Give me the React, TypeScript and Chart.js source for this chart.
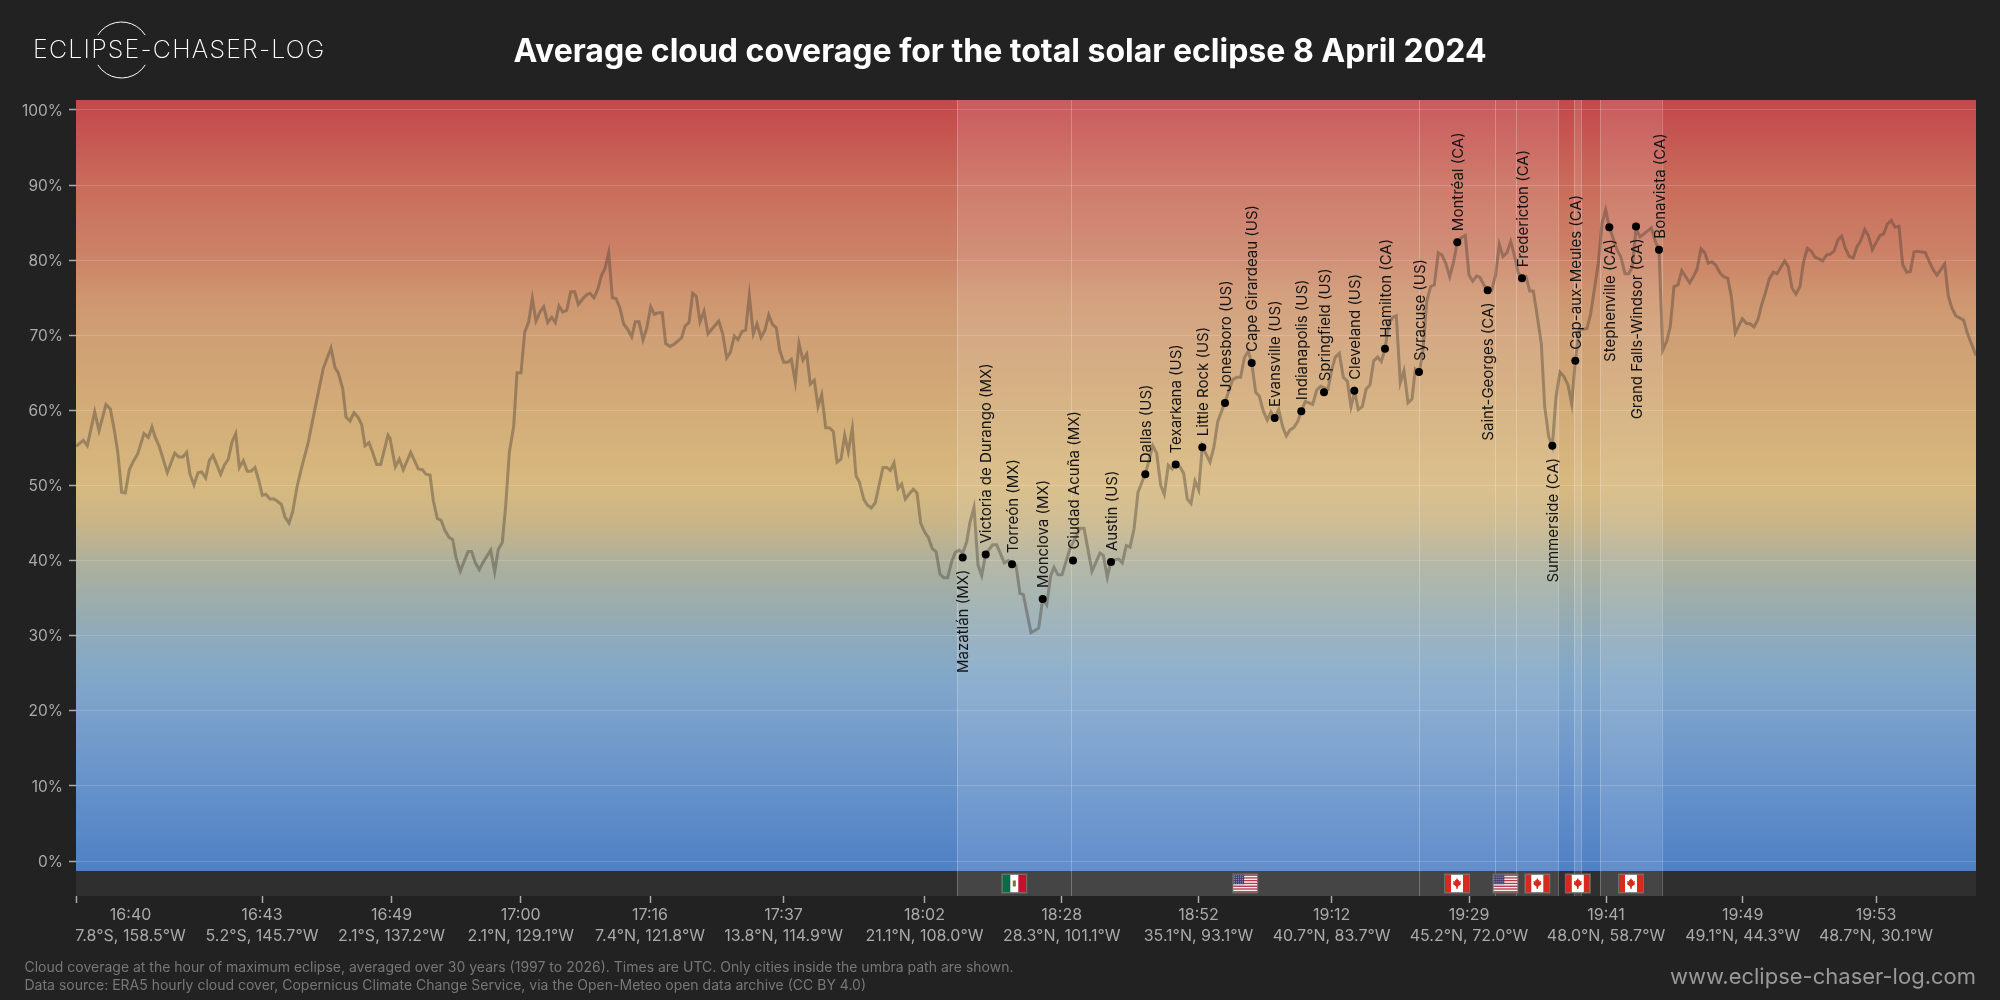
import { useEffect, useRef } from 'react';
import { Chart, registerables } from 'chart.js';

Chart.register(...registerables);

const TITLE = 'Average cloud coverage for the total solar eclipse 8 April 2024';
const FOOT_1 = 'Cloud coverage at the hour of maximum eclipse, averaged over 30 years (1997 to 2026). Times are UTC. Only cities inside the umbra path are shown.';
const FOOT_2 = 'Data source: ERA5 hourly cloud cover, Copernicus Climate Change Service, via the Open-Meteo open data archive (CC BY 4.0)';
const SITE = 'www.eclipse-chaser-log.com';
const LOGO = 'ECLIPSE-CHASER-LOG';

// position along the eclipse path (axis units), and cloud cover in %
const trackPos = [
  0, 7.3, 11.3, 18.7, 23, 30, 34.3, 38.3, 41.7, 45.7,
  49.3, 53.3, 57.3, 61.7, 68, 72.3, 76, 79.3, 83.3, 91.3,
  98.7, 102.7, 106.7, 110.7, 114, 118, 122, 125.7, 129.7, 133.3,
  137, 144.7, 148.3, 152.3, 156, 159.7, 163.3, 167.3, 171.3, 175,
  179, 182.7, 186.3, 190, 194, 198, 201.3, 205.3, 209, 213,
  216.7, 220.7, 224.7, 232, 239.7, 247.3, 255, 259, 262.3, 266.7,
  270, 274, 278, 282, 285.7, 289, 293, 296.7, 300.7, 304.7,
  312, 314, 319.3, 323.3, 327.3, 334.7, 342.3, 346.3, 350, 354,
  357.3, 361.3, 365, 369, 373, 376.7, 380, 384.3, 392, 395.7,
  399.3, 403.3, 407.3, 414.7, 418.7, 422.3, 426.3, 429.7, 433.3, 437.7,
  441, 445, 448.7, 452.7, 456.3, 460, 464, 467.7, 471.7, 475.7,
  479.3, 483, 486.7, 490.7, 494.7, 498.7, 502.3, 506.3, 510.7, 514,
  518, 522, 525.3, 529, 532.7, 536.3, 540, 544, 547.7, 551.7,
  555.7, 559.3, 563, 567, 570.7, 574.7, 578.3, 582.3, 586.3, 589.7,
  594, 598, 605.7, 609, 613, 616.7, 620.3, 624, 628, 632,
  642.7, 646.7, 650.7, 654.3, 658.3, 662, 666, 669.7, 673.3, 677.3,
  681, 685, 689, 692.7, 696.3, 700.3, 703.7, 707.7, 711.7, 715.3,
  719.3, 723, 727, 730.7, 734.3, 738.3, 742, 745.7, 749.7, 753.3,
  757.3, 761, 765, 768.7, 772.3, 776.3, 780, 783.3, 787.7, 791.3,
  795.3, 799.3, 803, 807, 810.7, 814.3, 818, 822, 825.7, 829.3,
  833.3, 837.3, 841, 844.7, 848.7, 852.3, 856.3, 860, 864, 867.7,
  871.7, 875.7, 879.3, 883.3, 886.7, 890.7, 894, 898, 902, 905.7,
  909.7, 916.7, 920.7, 928.3, 932.3, 940, 944, 947.3, 955, 962.7,
  966.7, 970.7, 974.7, 978, 982, 986, 994, 1004, 1008, 1016,
  1024, 1027.3, 1031.3, 1035, 1042.7, 1046.3, 1050.3, 1054, 1058, 1062,
  1069.3, 1073, 1076.7, 1080.7, 1084.7, 1088.3, 1092.3, 1096, 1099.7, 1104,
  1107.7, 1111.3, 1115, 1119, 1122.7, 1126.3, 1130.3, 1134, 1138, 1141.7,
  1149, 1156.7, 1160.7, 1164.7, 1168.3, 1172.3, 1176, 1179.7, 1183.3, 1187.3,
  1191.3, 1195, 1198.7, 1202.7, 1206.7, 1210.3, 1214, 1217.7, 1221.7, 1225.3,
  1229.3, 1236.7, 1240.7, 1244.7, 1252, 1255.7, 1259.3, 1263.3, 1267.3, 1271.3,
  1275, 1278.7, 1282.3, 1286.3, 1290, 1294, 1297.7, 1301.7, 1305.3, 1309,
  1313, 1317, 1320.3, 1324.3, 1328, 1332, 1336, 1339.3, 1343.3, 1347,
  1350.7, 1354.7, 1358.3, 1362.3, 1366, 1369.7, 1373.7, 1377.3, 1381.3, 1385.3,
  1389.3, 1393, 1396.7, 1400.7, 1404, 1408.3, 1411.7, 1415.7, 1419.7, 1423.3,
  1427, 1431, 1434.7, 1438.3, 1442.3, 1446, 1450, 1453.7, 1457.3, 1461.3,
  1465.3, 1468.7, 1472.7, 1476.3, 1480, 1484, 1488, 1492, 1495.7, 1499.3,
  1503.3, 1507.3, 1511, 1514.7, 1522.3, 1526, 1529.7, 1533.3, 1541, 1544.7,
  1549, 1552.7, 1556.3, 1560, 1564, 1571.7, 1575.3, 1579.3, 1583, 1586.7,
  1590.7, 1594.3, 1598, 1602, 1605.7, 1613.7, 1617.3, 1621, 1625, 1628.7,
  1632.3, 1636, 1640, 1644, 1647.7, 1651.7, 1655.3, 1659.3, 1666.3, 1670.3,
  1674.3, 1678, 1682, 1685.7, 1689.3, 1693.3, 1697.3, 1701, 1708.7, 1712.3,
  1716, 1720, 1724, 1727.3, 1731.3, 1735.3, 1739, 1746.7, 1750.7, 1754.3,
  1758, 1762, 1765.7, 1769.3, 1773.3, 1777.3, 1781, 1784.7, 1788.7, 1792.3,
  1796.3, 1804, 1807.7, 1811.3, 1815.3, 1819, 1823, 1826.7, 1830.7, 1834.3,
  1838, 1841.7, 1849.3, 1853.3, 1857.3, 1861, 1868.7, 1872.3, 1876, 1879.7,
  1887.7, 1891.3, 1895.3, 1900,
];
const trackCloud = [
  55.2, 56, 55.3, 59.8, 57.3, 60.8, 60.2, 57.4, 54.5, 49.1,
  49, 52.1, 53.2, 54.2, 56.9, 56.4, 57.8, 56.4, 55.2, 51.7,
  54.3, 53.8, 53.8, 54.4, 51.5, 50.1, 51.7, 51.8, 51, 53.3,
  54, 51.5, 52.7, 53.5, 55.8, 56.9, 52.4, 53.3, 51.9, 51.9,
  52.4, 50.7, 48.7, 48.8, 48.2, 48.2, 47.9, 47.5, 45.8, 45,
  46.5, 49.6, 51.9, 55.6, 60.7, 65.6, 68.3, 65.7, 65, 62.9,
  59.1, 58.6, 59.7, 59.1, 58.1, 55.3, 55.7, 54.4, 52.8, 52.8,
  56.7, 56.3, 52.5, 53.5, 52.1, 54.4, 52.2, 52.1, 51.5, 51.4,
  48, 45.6, 45.4, 44, 43.1, 42.8, 40.4, 38.6, 41.2, 41.2,
  39.7, 38.8, 39.8, 41.4, 38.5, 41.5, 42.4, 47.3, 54.4, 57.9,
  65, 65, 70.4, 71.8, 74.9, 71.9, 73.1, 73.8, 71.7, 72.4,
  71.7, 73.9, 73.1, 73.3, 75.8, 75.8, 74.1, 74.8, 75.4, 75.6,
  75, 76.2, 77.9, 78.9, 81, 75, 74.9, 73.6, 71.5, 70.8,
  69.8, 71.8, 71.8, 69.4, 70.9, 73.8, 72.8, 73, 73, 68.9,
  68.5, 68.8, 69.7, 71.2, 71.7, 75.6, 75.2, 71.8, 73.2, 70.2,
  71.9, 70.2, 67, 67.7, 69.9, 69.4, 70.5, 70.7, 75.3, 70.2,
  71.5, 69.7, 70.7, 72.7, 71.5, 71, 68, 66.4, 66.4, 66.8,
  63.8, 68.9, 66.7, 67.5, 63.5, 64, 60.5, 62.1, 57.7, 57.7,
  57.2, 53.1, 53.5, 56.7, 54.5, 57.6, 51.3, 50.5, 48.2, 47.4,
  47, 47.7, 50, 52.4, 52.4, 52, 53, 49.6, 50.2, 48.2,
  48.9, 49.5, 49, 45, 43.8, 43.1, 41.6, 41.2, 38.2, 37.7,
  37.7, 39.9, 41.1, 41.4, 41, 42.5, 45.1, 47.1, 39.4, 38,
  40.9, 42.1, 42.1, 39.7, 40, 39.4, 35.6, 35.5, 30.4, 31,
  34.9, 34.1, 38, 39.1, 38.1, 38.1, 41.6, 44.3, 44.3, 38.6,
  41, 40.7, 37.8, 40, 40.2, 39.7, 42, 41.8, 44.2, 49.1,
  51.6, 53.3, 55.3, 54.3, 50, 48.8, 52.7, 52.2, 52.9, 52.5,
  51.6, 48.2, 47.6, 50.6, 49.4, 55.2, 54.1, 53.1, 55.2, 58.5,
  61.1, 64.1, 64.4, 64.4, 67, 67.9, 66.1, 62.4, 61.9, 59.9,
  58.7, 59.8, 59, 60.1, 57.8, 56.6, 57.4, 57.7, 58.5, 59.9,
  61.2, 60.8, 62.7, 63.2, 62.8, 65.4, 67.1, 67.6, 64.4, 63.9,
  60.5, 62.5, 60.1, 60.5, 62.8, 63.4, 66.6, 67.1, 66.5, 68.2,
  71.7, 72.4, 72.6, 63.7, 65.3, 61, 61.5, 65.5, 65.1, 68,
  74.5, 76.5, 76.7, 81, 80.7, 79.6, 77.8, 79.6, 82.4, 83,
  83.3, 78, 77.2, 77.9, 77.7, 76.6, 76, 76, 78.1, 82.1,
  80.5, 81, 82.5, 80.7, 78.3, 77.6, 77.8, 75.9, 75.9, 72.5,
  68.9, 60.5, 56.5, 55.2, 61.8, 65.1, 64.5, 63.4, 60.9, 66.6,
  70.8, 70.8, 70.9, 72.9, 79.6, 84.9, 86.7, 84.4, 81.4, 80.5,
  78.2, 78.2, 79.1, 84.2, 83.1, 83.9, 84.3, 82.5, 81.4, 68,
  69.2, 71.2, 76.5, 76.7, 78.6, 77, 77.8, 78.8, 81.5, 81,
  79.6, 79.8, 79.3, 78.3, 77.8, 77.6, 75.2, 70.3, 72.2, 71.6,
  71.5, 71.1, 72.1, 74.1, 75.6, 77.5, 78.4, 78.2, 79.9, 79.1,
  76.3, 75.5, 76.5, 79.6, 81.6, 81.2, 80.4, 79.9, 80.7, 80.8,
  81.2, 82.7, 83.2, 81.6, 80.5, 80.3, 81.8, 82.6, 84.1, 83.3,
  81.4, 83.3, 83.5, 84.8, 85.3, 84.4, 84.5, 79.4, 78.4, 78.5,
  81.1, 81.2, 81, 79.8, 78.7, 78, 79.5, 75.2, 73.6, 72.6,
  72, 70.3, 68.9, 67.3,
];

const cityNames = [
  'Mazatlán (MX)', 'Victoria de Durango (MX)', 'Torreón (MX)', 'Monclova (MX)', 'Ciudad Acuña (MX)',
  'Austin (US)', 'Dallas (US)', 'Texarkana (US)', 'Little Rock (US)', 'Jonesboro (US)',
  'Cape Girardeau (US)', 'Evansville (US)', 'Indianapolis (US)', 'Springfield (US)', 'Cleveland (US)',
  'Hamilton (CA)', 'Syracuse (US)', 'Montréal (CA)', 'Saint-Georges (CA)', 'Fredericton (CA)',
  'Summerside (CA)', 'Cap-aux-Meules (CA)', 'Stephenville (CA)', 'Grand Falls-Windsor (CA)', 'Bonavista (CA)',
];
const cityPos = [
  886.7, 909.7, 936, 966.7, 997,
  1035, 1069.3, 1099.7, 1126.3, 1149,
  1175.7, 1198.7, 1225.3, 1248, 1278.3,
  1309, 1343, 1381.3, 1411.7, 1446,
  1476.3, 1499.3, 1533.3, 1560, 1583,
];
const cityCloud = [
  40.4, 40.8, 39.5, 34.9, 40,
  39.8, 51.5, 52.8, 55.1, 61,
  66.3, 59, 59.9, 62.4, 62.6,
  68.2, 65.1, 82.4, 76, 77.6,
  55.3, 66.6, 84.4, 84.5, 81.4,
];
const citiesBelow = ['Mazatlán (MX)', 'Saint-Georges (CA)', 'Summerside (CA)', 'Stephenville (CA)', 'Grand Falls-Windsor (CA)'];

// umbra segments per country
const bandStart = [881.3, 995.3, 1343.3, 1418.7, 1440.3, 1498.3, 1524.3];
const bandEnd = [995.3, 1343.3, 1418.7, 1440.3, 1482.3, 1505.3, 1585.7];
const bandCountry = ['MX', 'US', 'CA', 'US', 'CA', 'CA', 'CA'];

const yTicks = [0, 10, 20, 30, 40, 50, 60, 70, 80, 90, 100];
const tickPos = [0, 54.6, 186, 315.6, 444.7, 574, 707.6, 848.5, 985.7, 1122.5, 1255.6, 1393, 1530, 1666.7, 1800];
const tickTime = ['', '16:40', '16:43', '16:49', '17:00', '17:16', '17:37', '18:02', '18:28', '18:52', '19:12', '19:29', '19:41', '19:49', '19:53'];
const tickCoord = [
  '', '7.8°S, 158.5°W', '5.2°S, 145.7°W', '2.1°S, 137.2°W', '2.1°N, 129.1°W', '7.4°N, 121.8°W', '13.8°N, 114.9°W',
  '21.1°N, 108.0°W', '28.3°N, 101.1°W', '35.1°N, 93.1°W', '40.7°N, 83.7°W', '45.2°N, 72.0°W', '48.0°N, 58.7°W',
  '49.1°N, 44.3°W', '48.7°N, 30.1°W',
];

const gradientValues = [101.3, 100, 90, 80, 75, 70, 60, 50, 45, 40, 35, 30, 25, 20, 10, 0, -1.3];
const gradientColors = [
  '#c24a4c', '#c44b4d', '#c96c5b', '#cc8468', '#cf9670', '#cf9f75', '#d3ac78', '#d7b97f', '#c9b588', '#aeb09b',
  '#9dadaa', '#8faaba', '#82a8c8', '#7ba1cb', '#6692ca', '#5282c6', '#5080c5',
];

const STRIP_FLOOR = -4.66;
const STRIP_TOP = -1.33;

function drawFlag(ctx: CanvasRenderingContext2D, code: string, cx: number, top: number) {
  const w = 24;
  const h = 18;
  const x = cx - w / 2;
  ctx.save();
  ctx.fillStyle = '#fff';
  ctx.fillRect(x, top, w, h);
  if (code === 'MX') {
    ctx.fillStyle = '#0b6b47';
    ctx.fillRect(x, top, w / 3, h);
    ctx.fillStyle = '#c8102e';
    ctx.fillRect(x + (2 * w) / 3, top, w / 3, h);
    ctx.fillStyle = '#8a6a3a';
    ctx.fillRect(cx - 1.5, top + 6, 3, 6);
  } else if (code === 'US') {
    for (let i = 0; i < 13; i++) {
      ctx.fillStyle = i % 2 === 0 ? '#b8344a' : '#f2f2f2';
      ctx.fillRect(x, top + (i * h) / 13, w, h / 13 + 0.2);
    }
    ctx.fillStyle = '#3c3b6e';
    ctx.fillRect(x, top, w * 0.45, h * 0.54);
    ctx.fillStyle = 'rgba(255,255,255,0.75)';
    for (let r = 0; r < 5; r++) {
      for (let c = 0; c < 5; c++) {
        ctx.fillRect(x + 1 + c * 2, top + 1 + r * 1.8, 0.8, 0.8);
      }
    }
  } else {
    ctx.fillStyle = '#d52b1e';
    ctx.fillRect(x, top, w / 4, h);
    ctx.fillRect(x + (3 * w) / 4, top, w / 4, h);
    // rough maple leaf
    ctx.beginPath();
    ctx.moveTo(cx, top + 3.5);
    ctx.lineTo(cx + 1.2, top + 5.8);
    ctx.lineTo(cx + 2, top + 5.2);
    ctx.lineTo(cx + 2, top + 7);
    ctx.lineTo(cx + 4, top + 6.6);
    ctx.lineTo(cx + 3.4, top + 8.6);
    ctx.lineTo(cx + 4.2, top + 9.4);
    ctx.lineTo(cx + 1, top + 12);
    ctx.lineTo(cx + 0.5, top + 14.5);
    ctx.lineTo(cx - 0.5, top + 14.5);
    ctx.lineTo(cx - 1, top + 12);
    ctx.lineTo(cx - 4.2, top + 9.4);
    ctx.lineTo(cx - 3.4, top + 8.6);
    ctx.lineTo(cx - 4, top + 6.6);
    ctx.lineTo(cx - 2, top + 7);
    ctx.lineTo(cx - 2, top + 5.2);
    ctx.lineTo(cx - 1.2, top + 5.8);
    ctx.closePath();
    ctx.fill();
  }
  ctx.strokeStyle = '#6a6a6a';
  ctx.lineWidth = 1;
  ctx.strokeRect(x - 0.5, top - 0.5, w + 1, h + 1);
  ctx.restore();
}

const backdropPlugin = {
  id: 'backdrop',
  beforeDraw(chart: any) {
    const { ctx, chartArea, scales } = chart;
    const { left, right, top, bottom } = chartArea;
    const yS = scales.y;
    const xS = scales.x;
    const stripTop = yS.getPixelForValue(STRIP_TOP);

    ctx.save();
    const grad = ctx.createLinearGradient(0, top, 0, stripTop);
    gradientValues.forEach((v, i) => {
      const t = (yS.getPixelForValue(v) - top) / (stripTop - top);
      grad.addColorStop(Math.min(1, Math.max(0, t)), gradientColors[i]);
    });
    ctx.fillStyle = grad;
    ctx.fillRect(left, top, right - left, stripTop - top);

    ctx.fillStyle = '#2f2f2f';
    ctx.fillRect(left, stripTop, right - left, bottom - stripTop);

    bandStart.forEach((start, i) => {
      const x0 = xS.getPixelForValue(start);
      const x1 = xS.getPixelForValue(bandEnd[i]);
      ctx.fillStyle = 'rgba(255,255,255,0.11)';
      ctx.fillRect(x0, top, x1 - x0, bottom - top);
    });

    // shared borders get one line only
    ctx.strokeStyle = 'rgba(255,255,255,0.25)';
    ctx.lineWidth = 1;
    new Set([...bandStart, ...bandEnd]).forEach((pos) => {
      const xp = Math.round(xS.getPixelForValue(pos)) + 0.5;
      ctx.beginPath();
      ctx.moveTo(xp, top);
      ctx.lineTo(xp, bottom);
      ctx.stroke();
    });
    ctx.restore();
  },
  afterDatasetsDraw(chart: any) {
    const { ctx, scales } = chart;
    const xS = scales.x;
    const yS = scales.y;

    // city names, turned 90 degrees
    ctx.save();
    ctx.font = '15px Inter';
    ctx.fillStyle = '#141414';
    ctx.textBaseline = 'middle';
    chart.getDatasetMeta(1).data.forEach((pt: any, i: number) => {
      const below = citiesBelow.includes(cityNames[i]);
      ctx.save();
      ctx.translate(pt.x + 1, pt.y + (below ? 12 : -11));
      ctx.rotate(-Math.PI / 2);
      ctx.textAlign = below ? 'right' : 'left';
      ctx.fillText(cityNames[i], 0, 0);
      ctx.restore();
    });
    ctx.restore();

    const flagTop = yS.getPixelForValue(STRIP_TOP) + 3.5;
    bandStart.forEach((start, i) => {
      drawFlag(ctx, bandCountry[i], xS.getPixelForValue((start + bandEnd[i]) / 2), flagTop);
    });
  },
  afterDraw(chart: any) {
    const { ctx } = chart;
    ctx.save();

    ctx.fillStyle = '#fff';
    ctx.font = '700 32px Inter';
    ctx.textAlign = 'center';
    ctx.textBaseline = 'middle';
    ctx.fillText(TITLE, 1000, 52);

    // logo
    ctx.strokeStyle = '#fff';
    ctx.lineWidth = 1;
    ctx.beginPath();
    ctx.arc(121.5, 50, 28, Math.PI + 0.56, -0.56);
    ctx.stroke();
    ctx.beginPath();
    ctx.arc(121.5, 50, 28, 0.56, Math.PI - 0.56);
    ctx.stroke();
    ctx.font = '200 25px Inter';
    ctx.letterSpacing = '1.2px';
    ctx.textAlign = 'left';
    ctx.fillText(LOGO, 33, 50);
    ctx.letterSpacing = '0px';

    // footer
    ctx.fillStyle = '#777';
    ctx.font = '14px Inter';
    ctx.fillText(FOOT_1, 24.5, 967.5);
    ctx.fillText(FOOT_2, 24.5, 986);
    ctx.fillStyle = '#999';
    ctx.font = '22px Inter';
    ctx.textAlign = 'right';
    ctx.fillText(SITE, 1976, 977);
    ctx.restore();
  },
};

export default function App() {
  const chartRef = useRef<HTMLCanvasElement>(null);

  useEffect(() => {
    if (!chartRef.current) return;
    document.body.style.margin = '0';
    document.body.style.background = '#222222';

    const chart = new Chart(chartRef.current, {
      type: 'line',
      data: {
        datasets: [
          {
            data: trackPos.map((x, i) => ({ x, y: trackCloud[i] })),
            borderColor: 'rgba(70,60,50,0.4)',
            borderWidth: 3,
            pointRadius: 0,
            tension: 0,
            order: 2,
          },
          {
            type: 'scatter',
            data: cityPos.map((x, i) => ({ x, y: cityCloud[i] })),
            backgroundColor: '#000',
            borderColor: '#000',
            pointRadius: 4,
            pointBorderWidth: 0,
            showLine: false,
            order: 1,
          },
        ] as any,
      },
      options: {
        responsive: false,
        devicePixelRatio: 1,
        animation: false,
        font: { family: 'Inter' },
        layout: { padding: { left: 0, right: 24, top: 100, bottom: 0 } },
        plugins: {
          legend: { display: false },
          tooltip: { enabled: false },
          title: { display: false },
        },
        scales: {
          x: {
            type: 'linear',
            min: 0,
            max: 1900,
            border: { display: false },
            grid: {
              drawOnChartArea: false,
              tickLength: 7,
              tickWidth: 1.5,
              tickColor: (c: any) => (c.index === 1 ? 'transparent' : '#aaa'),
            },
            afterBuildTicks: (s: any) => {
              s.ticks = tickPos.map((value) => ({ value }));
            },
            afterFit: (s: any) => {
              s.height = 104;
            },
            ticks: {
              autoSkip: false,
              maxRotation: 0,
              color: '#aaa',
              padding: 2,
              font: { family: 'Inter', size: 16, lineHeight: 1.31 },
              callback: (v: any) => {
                const i = tickPos.indexOf(v);
                return i > 0 ? [tickTime[i], tickCoord[i]] : '';
              },
            },
          },
          y: {
            type: 'linear',
            min: STRIP_FLOOR,
            max: 101.33,
            border: { display: false },
            grid: {
              color: 'rgba(255,255,255,0.16)',
              lineWidth: 1,
              tickLength: 7,
              tickWidth: 1.5,
              tickColor: '#aaa',
            },
            afterBuildTicks: (s: any) => {
              s.ticks = yTicks.map((value) => ({ value }));
            },
            afterFit: (s: any) => {
              s.width = 76;
            },
            ticks: {
              autoSkip: false,
              color: '#aaa',
              padding: 6,
              labelOffset: 1,
              font: { family: 'Inter', size: 15.5 },
              callback: (v: any) => v + '%',
            },
          },
        },
      },
      plugins: [backdropPlugin],
    } as any);

    return () => {
      chart.destroy();
    };
  }, []);

  return <canvas ref={chartRef} width={2000} height={1000} style={{ display: 'block' }} />;
}
